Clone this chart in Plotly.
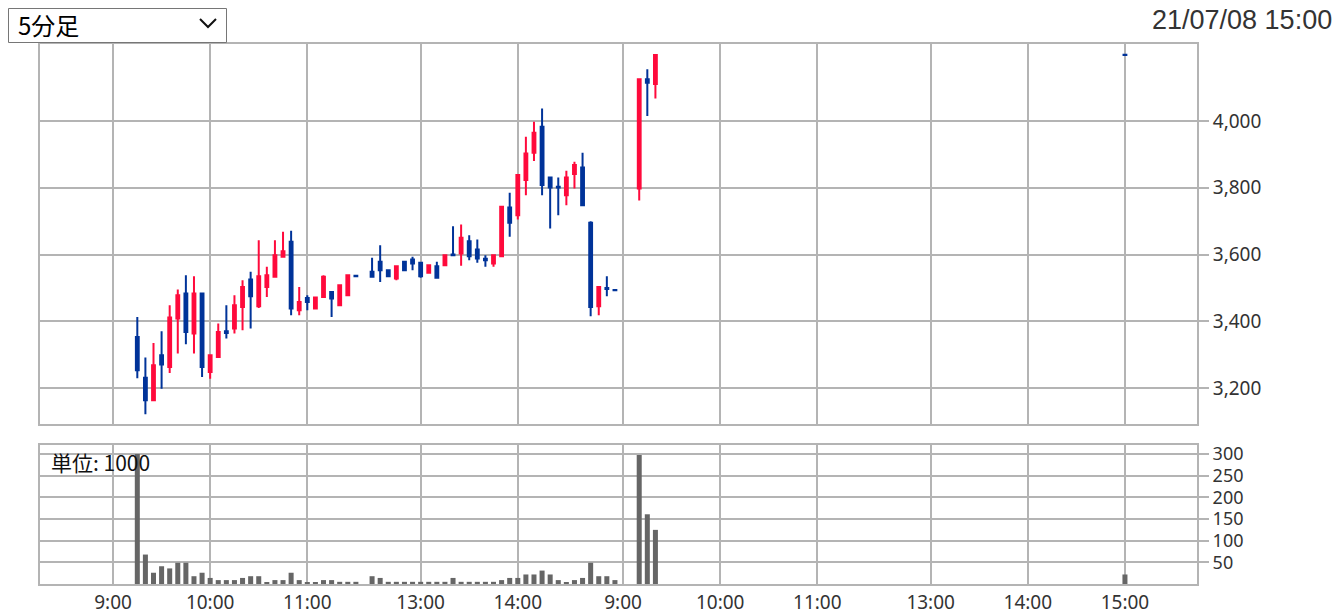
import plotly.graph_objects as go

# ---------------- data ----------------
session = [0] * 28 + [0] * 31 + [1] * 4   # 0 = 2021-07-07, 1 = 2021-07-08
times = [
    "09:15", "09:20", "09:25", "09:30", "09:35", "09:40", "09:45", "09:50", "09:55", "10:00",
    "10:05", "10:10", "10:15", "10:20", "10:25", "10:30", "10:35", "10:40", "10:45", "10:50",
    "10:55", "11:00", "11:05", "11:10", "11:15", "11:20", "11:25", "11:30",
    "12:30", "12:35", "12:40", "12:45", "12:50", "12:55", "13:00", "13:05", "13:10", "13:15",
    "13:20", "13:25", "13:30", "13:35", "13:40", "13:45", "13:50", "13:55", "14:00", "14:05",
    "14:10", "14:15", "14:20", "14:25", "14:30", "14:35", "14:40", "14:45", "14:50", "14:55", "15:00",
    "09:10", "09:15", "09:20", "15:00",
]
opens = [
    3353, 3231, 3163, 3298, 3263, 3408, 3483, 3363, 3483, 3248,
    3293, 3370, 3378, 3443, 3525, 3445, 3503, 3533, 3593, 3638,
    3433, 3470, 3438, 3473, 3488, 3448, 3478, 3536,
    3548, 3578, 3553, 3528, 3578, 3585, 3575, 3545, 3565, 3568,
    3600, 3603, 3640, 3615, 3587, 3573, 3595, 3741, 3718, 3823,
    3905, 3983, 3831, 3803, 3778, 3841, 3861, 3695, 3445, 3500, 3494,
    3798, 4125, 4111, 4199,
]
highs = [
    3413, 3291, 3335, 3370, 3448, 3495, 3538, 3535, 3485, 3298,
    3393, 3448, 3478, 3523, 3548, 3643, 3563, 3643, 3668, 3671,
    3503, 3478, 3471, 3538, 3490, 3508, 3538, 3536,
    3590, 3628, 3556, 3565, 3580, 3593, 3578, 3568, 3578, 3600,
    3685, 3690, 3658, 3645, 3598, 3598, 3743, 3785, 3840, 3953,
    3998, 4038, 3833, 3831, 3851, 3878, 3905, 3700, 3503, 3535, 3494,
    4125, 4155, 4198, 4199,
]
lows = [
    3229, 3121, 3163, 3198, 3245, 3303, 3331, 3303, 3233, 3228,
    3290, 3348, 3363, 3373, 3378, 3440, 3473, 3530, 3590, 3418,
    3418, 3433, 3435, 3470, 3413, 3445, 3475, 3535,
    3533, 3518, 3533, 3523, 3553, 3553, 3530, 3543, 3528, 3566,
    3598, 3566, 3583, 3575, 3563, 3563, 3595, 3653, 3705, 3778,
    3880, 3778, 3678, 3718, 3748, 3798, 3748, 3415, 3418, 3475, 3493,
    3762, 4015, 4068, 4198,
]
closes = [
    3253, 3163, 3268, 3270, 3411, 3478, 3368, 3483, 3263, 3298,
    3368, 3365, 3448, 3503, 3475, 3535, 3538, 3598, 3610, 3438,
    3458, 3458, 3471, 3533, 3468, 3508, 3538, 3535,
    3533, 3553, 3535, 3565, 3553, 3573, 3535, 3568, 3530, 3598,
    3598, 3650, 3595, 3588, 3583, 3598, 3743, 3695, 3838, 3903,
    3965, 3808, 3801, 3801, 3831, 3868, 3748, 3443, 3503, 3497, 3493,
    4125, 4115, 4198, 4198,
]
volumes = [
    300, 68, 26, 41, 36, 49, 49, 18, 26, 14,
    9, 9, 9, 14, 18, 18, 3, 9, 9, 26,
    9, 3, 3, 9, 9, 5, 5, 5,
    18, 14, 5, 5, 5, 5, 5, 5, 5, 5,
    14, 5, 5, 5, 5, 5, 9, 14, 14, 22,
    22, 31, 22, 9, 3, 9, 14, 49, 18, 18, 9,
    298, 161, 125, 22,
]
tick_sessions = [0, 0, 0, 0, 0, 1, 1, 1, 1, 1, 1]
tick_times = ["09:00", "10:00", "11:00", "13:00", "14:00",
              "09:00", "10:00", "11:00", "13:00", "14:00", "15:00"]
tick_labels = ["9:00", "10:00", "11:00", "13:00", "14:00",
               "9:00", "10:00", "11:00", "13:00", "14:00", "15:00"]
price_ticks = [3200, 3400, 3600, 3800, 4000]
volume_ticks = [50, 100, 150, 200, 250, 300]
title_text = "21/07/08 15:00"
unit_text = "単位: 1000"
selector_text = "5分足"


# ------------- helpers: 5-minute slot axis (lunch break compressed) -------------
def slot(sess, t):
    h, m = map(int, t.split(":"))
    mins = h * 60 + m
    s = (mins - 540) / 5
    if mins >= 750:          # afternoon session starts at 12:30
        s -= 10
    return sess * 63 + s


x = [slot(s, t) for s, t in zip(session, times)]
tickvals = [slot(s, t) for s, t in zip(tick_sessions, tick_times)]

RED = "#FF0A3C"
BLUE = "#003399"
GRID = "#B4B4B4"
TXT = "#333333"

# The page body has an 8px margin, so the figure is made 8px smaller and
# all pixel positions below are measured in window coordinates.
OFF = 8
WIN_W, WIN_H = 1342, 614
W, H = WIN_W - OFF, WIN_H - OFF
PLOT_L, PLOT_R, PLOT_T, PLOT_B = 40, 1197, 44, 584   # plot area in window pixels
L, R, T, B = PLOT_L - OFF, WIN_W - PLOT_R, PLOT_T - OFF, WIN_H - PLOT_B
PW, PH = PLOT_R - PLOT_L, PLOT_B - PLOT_T


def px(xp):
    return (xp - PLOT_L) / PW


def py(yp):
    return (PLOT_B - yp) / PH


fig = go.Figure()
fig.add_trace(go.Candlestick(
    x=x, open=opens, high=highs, low=lows, close=closes,
    xaxis="x2", yaxis="y",
    increasing=dict(line=dict(color=RED, width=2), fillcolor=RED),
    decreasing=dict(line=dict(color=BLUE, width=2), fillcolor=BLUE),
    whiskerwidth=0, showlegend=False, hoverinfo="skip",
))
fig.add_trace(go.Bar(
    x=x, y=volumes, xaxis="x", yaxis="y2",
    marker=dict(color="#666666", line=dict(width=0)),
    showlegend=False, hoverinfo="skip",
))

axis_common = dict(
    showgrid=True, gridcolor=GRID, gridwidth=2,
    showline=True, mirror=True, linecolor=GRID, linewidth=2,
    zeroline=False, automargin=False,
)
FONT = "Noto Sans, DejaVu Sans, sans-serif"
tick_font = dict(family=FONT, size=19, color=TXT)
vol_font = dict(family=FONT, size=18, color=TXT)

fig.update_layout(
    width=W, height=H, autosize=False,
    margin=dict(l=L, r=R, t=T, b=B, pad=0),
    paper_bgcolor="white", plot_bgcolor="white",
    boxgap=0.5, bargap=0.38,
    xaxis=dict(
        domain=[0, 1], anchor="y2", range=[-9.02, 133.9],
        tickmode="array", tickvals=tickvals, ticktext=tick_labels,
        ticks="", tickfont=tick_font, **axis_common,
    ),
    xaxis2=dict(
        domain=[0, 1], anchor="y", matches="x", range=[-9.02, 133.9],
        tickmode="array", tickvals=tickvals, showticklabels=False,
        ticks="", rangeslider=dict(visible=False), **axis_common,
    ),
    yaxis=dict(
        domain=[py(424), 1], anchor="x2", side="right", range=[3092, 4231],
        tickmode="array", tickvals=price_ticks,
        ticktext=[f"{v:,}" for v in price_ticks],
        ticks="outside", ticklen=10, tickwidth=2, tickcolor=GRID,
        tickfont=tick_font, **axis_common,
    ),
    yaxis2=dict(
        domain=[0, py(445)], anchor="x", side="right", range=[0, 321],
        tickmode="array", tickvals=volume_ticks,
        ticktext=[str(v) for v in volume_ticks],
        ticks="outside", ticklen=10, tickwidth=2, tickcolor=GRID,
        tickfont=vol_font, **axis_common,
    ),
    shapes=[
        dict(type="rect", xref="paper", yref="paper",
             x0=px(8.5), x1=px(226.5), y0=py(42.5), y1=py(8.5),
             line=dict(color="#767676", width=1), fillcolor="white", layer="above"),
        dict(type="path", xref="paper", yref="paper",
             path=f"M {px(200)},{py(19)} L {px(208)},{py(27)} L {px(216)},{py(19)}",
             line=dict(color="#111111", width=2)),
    ],
    annotations=[
        dict(text=selector_text, xref="paper", yref="paper", x=px(16), y=py(25),
             xanchor="left", yanchor="middle", showarrow=False,
             font=dict(family="Noto Sans CJK JP", size=24, color="#000000")),
        dict(text=title_text, xref="paper", yref="paper", x=px(1333), y=py(20),
             xanchor="right", yanchor="middle", showarrow=False, borderpad=0,
             font=dict(family="Liberation Sans, Arial", size=27, color=TXT)),
        dict(text=unit_text, xref="paper", yref="paper", x=px(49), y=py(462),
             xanchor="left", yanchor="middle", showarrow=False,
             font=dict(family="Noto Sans CJK JP", size=21, color="#111111")),
    ],
)

fig.write_html("out.html")
